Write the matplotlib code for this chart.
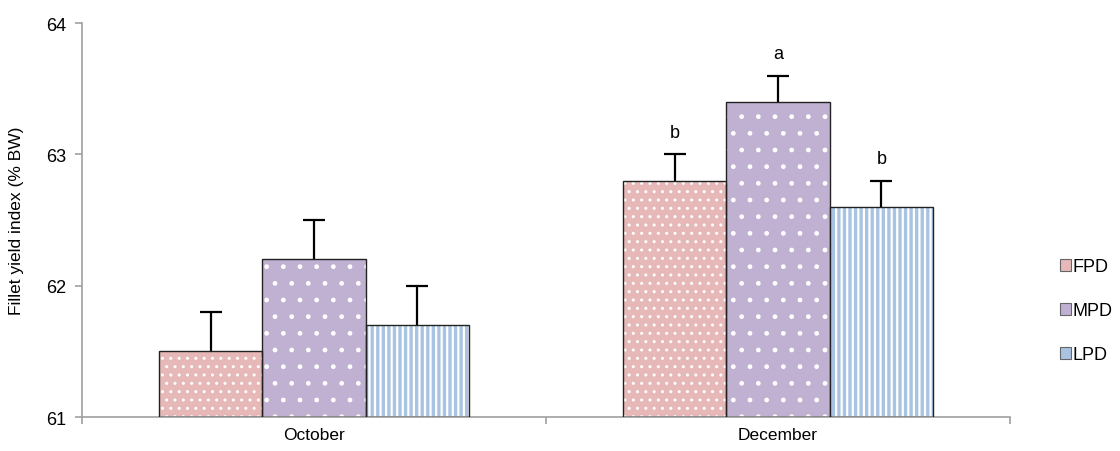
import numpy as np
import matplotlib.pyplot as plt
from matplotlib.patches import Patch

plt.rcParams['font.family'] = ['Liberation Sans', 'DejaVu Sans']

# datos
meses = ['October', 'December']
grupos = ['FPD', 'MPD', 'LPD']
fpd = [61.5, 62.8]
mpd = [62.2, 63.4]
lpd = [61.7, 62.6]
err_fpd = [0.3, 0.2]
err_mpd = [0.3, 0.2]
err_lpd = [0.3, 0.2]
letras_fpd = ['', 'b']
letras_mpd = ['', 'a']
letras_lpd = ['', 'b']

colores = ['#E6B9B8', '#C0B0D2', '#A9C3E2']
hatches = ['..', '.', '|||']
grosor_hatch = [1.0, 1.0, 1.6]

fig = plt.figure(figsize=(11.2, 4.52), dpi=100)
ax = fig.add_axes([0.0732, 0.0752, 0.8286, 0.8717])

x = np.arange(len(meses))
w = 0.223
series = [fpd, mpd, lpd]
errores = [err_fpd, err_mpd, err_lpd]
letras = [letras_fpd, letras_mpd, letras_lpd]

for i in range(3):
    pos = x + (i - 1) * w
    # relleno con patron blanco
    with plt.rc_context({'hatch.linewidth': grosor_hatch[i]}):
        ax.bar(pos, np.array(series[i]) - 61, w, bottom=61, color=colores[i],
               edgecolor='white', hatch=hatches[i], linewidth=0, zorder=2)
    # borde
    ax.bar(pos, np.array(series[i]) - 61, w, bottom=61, fill=False,
           edgecolor='#222222', linewidth=1, zorder=3)
    eb = ax.errorbar(pos, series[i], yerr=[[0] * len(meses), errores[i]], fmt='none',
                     ecolor='black', elinewidth=1.6, capsize=8, capthick=1.6, zorder=1)
    # ocultar la tapa inferior
    eb[1][0].set_visible(False)
    for j in range(len(meses)):
        if letras[i][j]:
            ax.text(pos[j], series[i][j] + errores[i][j] + 0.1, letras[i][j],
                    ha='center', va='bottom', fontsize=13)

ax.set_xlim(-0.5, 1.5)
ax.set_ylim(61, 64)
ax.set_yticks([61, 62, 63, 64])
ax.set_xticks(x)
ax.set_xticklabels(meses)
ax.set_xticks([-0.5, 0.5, 1.5], minor=True)
ax.tick_params(axis='x', which='major', length=0, labelsize=12.5, pad=7)
ax.tick_params(axis='x', which='minor', length=5, color='#A0A0A0', width=1.2)
ax.tick_params(axis='y', length=5, color='#A0A0A0', width=1.2, labelsize=13, pad=6)
for s in ['top', 'right']:
    ax.spines[s].set_visible(False)
for s in ['left', 'bottom']:
    ax.spines[s].set_color('#A0A0A0')
    ax.spines[s].set_linewidth(1.2)
ax.set_ylabel('Fillet yield index (% BW)', fontsize=12.5, labelpad=16)

handles = [Patch(facecolor=colores[i], edgecolor='#666666', linewidth=0.8)
           for i in range(3)]
fig.legend(handles, grupos, loc='center left', bbox_to_anchor=(0.932, 0.31),
           frameon=False, fontsize=13, handlelength=0.6, handleheight=0.6,
           handletextpad=0.1, labelspacing=1.5)

plt.savefig('out.png', dpi=100)
